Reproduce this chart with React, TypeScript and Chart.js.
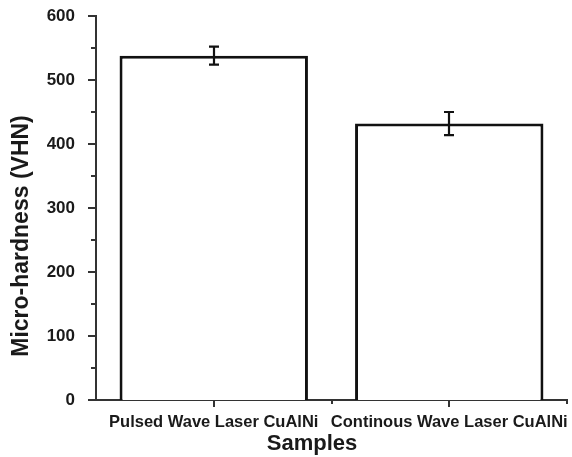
import { useEffect, useRef } from "react";
import { Chart, registerables } from "chart.js";

Chart.register(...registerables);

const categories = ["Pulsed Wave Laser CuAlNi", "Continous Wave Laser CuAlNi"];
const hardness = [538, 432];
const hardnessError = [14, 18];
const yMajorTicks = [0, 100, 200, 300, 400, 500, 600];
const yMinorTicks = [50, 150, 250, 350, 450, 550];
const yTitle = "Micro-hardness (VHN)";
const xTitle = "Samples";

const FONT = "'Liberation Sans', Arial, Helvetica, sans-serif";
const TEXT = "#1a1a1a";
const AXIS = "#333333";

const extrasPlugin = {
  id: "extras",
  afterDraw(chart: any) {
    const ctx = chart.ctx as CanvasRenderingContext2D;
    const xs = chart.scales.x;
    const ys = chart.scales.y;
    const area = chart.chartArea;
    ctx.save();
    ctx.strokeStyle = AXIS;
    ctx.lineWidth = 2;
    yMajorTicks.forEach((v) => {
      const y = Math.round(ys.getPixelForValue(v));
      ctx.beginPath();
      ctx.moveTo(area.left - 8, y);
      ctx.lineTo(area.left, y);
      ctx.stroke();
    });
    yMinorTicks.forEach((v) => {
      const y = Math.round(ys.getPixelForValue(v));
      ctx.beginPath();
      ctx.moveTo(area.left - 5, y);
      ctx.lineTo(area.left, y);
      ctx.stroke();
    });
    categories.forEach((_, i) => {
      const x = Math.round(xs.getPixelForValue(i));
      ctx.beginPath();
      ctx.moveTo(x, area.bottom);
      ctx.lineTo(x, area.bottom + 7);
      ctx.stroke();
      let bx: number;
      if (i < categories.length - 1) {
        bx = Math.round((xs.getPixelForValue(i) + xs.getPixelForValue(i + 1)) / 2);
      } else {
        bx = Math.round(area.right);
      }
      ctx.beginPath();
      ctx.moveTo(bx, area.bottom);
      ctx.lineTo(bx, area.bottom + 4);
      ctx.stroke();
    });
    ctx.strokeStyle = "#111111";
    ctx.lineWidth = 2.2;
    hardness.forEach((v, i) => {
      const x = Math.round(xs.getPixelForValue(i));
      const yt = ys.getPixelForValue(v + hardnessError[i]);
      const yb = ys.getPixelForValue(v - hardnessError[i]);
      ctx.beginPath();
      ctx.moveTo(x, yt);
      ctx.lineTo(x, yb);
      ctx.moveTo(x - 5, yt);
      ctx.lineTo(x + 5, yt);
      ctx.moveTo(x - 5, yb);
      ctx.lineTo(x + 5, yb);
      ctx.stroke();
    });
    ctx.fillStyle = TEXT;
    ctx.textAlign = "center";
    ctx.textBaseline = "middle";
    ctx.font = `bold 22px ${FONT}`;
    ctx.fillText(xTitle, area.left + 216, area.bottom + 44);
    ctx.font = `bold 23px ${FONT}`;
    ctx.translate(22, (area.top + area.bottom) / 2 + 28);
    ctx.rotate(-Math.PI / 2);
    ctx.fillText(yTitle, 0, 0);
    ctx.restore();
  },
};

export default function App() {
  const ref = useRef<HTMLCanvasElement | null>(null);
  useEffect(() => {
    if (!ref.current) return;
    const chart = new Chart(ref.current, {
      type: "bar",
      data: {
        labels: categories,
        datasets: [
          {
            data: hardness,
            backgroundColor: "#ffffff",
            borderColor: "#111111",
            borderWidth: 3,
            borderSkipped: "bottom",
            barPercentage: 1,
            categoryPercentage: 0.8,
          },
        ],
      },
      options: {
        animation: false,
        responsive: false,
        devicePixelRatio: 1,
        layout: { padding: { top: 16, right: 5, left: 0, bottom: 0 } },
        plugins: { legend: { display: false }, tooltip: { enabled: false } },
        scales: {
          x: {
            grid: { display: false },
            border: { display: true, color: AXIS, width: 2 },
            ticks: {
              color: TEXT,
              font: { family: FONT, size: 16.5, weight: "bold" },
              padding: 5,
              maxRotation: 0,
              autoSkip: false,
            },
            afterFit: (s: any) => {
              s.height = 57;
              s.paddingLeft = 0;
              s.paddingRight = 0;
            },
          },
          y: {
            min: 0,
            max: 600,
            grid: { display: false },
            border: { display: true, color: AXIS, width: 2 },
            ticks: {
              stepSize: 100,
              color: TEXT,
              font: { family: FONT, size: 17, weight: "bold" },
              padding: 13,
            },
            afterFit: (s: any) => {
              s.width = 96;
              s.paddingTop = 0;
              s.paddingBottom = 0;
            },
          },
        },
      },
      plugins: [extrasPlugin],
    });
    return () => chart.destroy();
  }, []);
  return (
    <canvas
      ref={ref}
      width={572}
      height={457}
      style={{ position: "absolute", left: 0, top: 0, width: 572, height: 457, display: "block" }}
    />
  );
}
